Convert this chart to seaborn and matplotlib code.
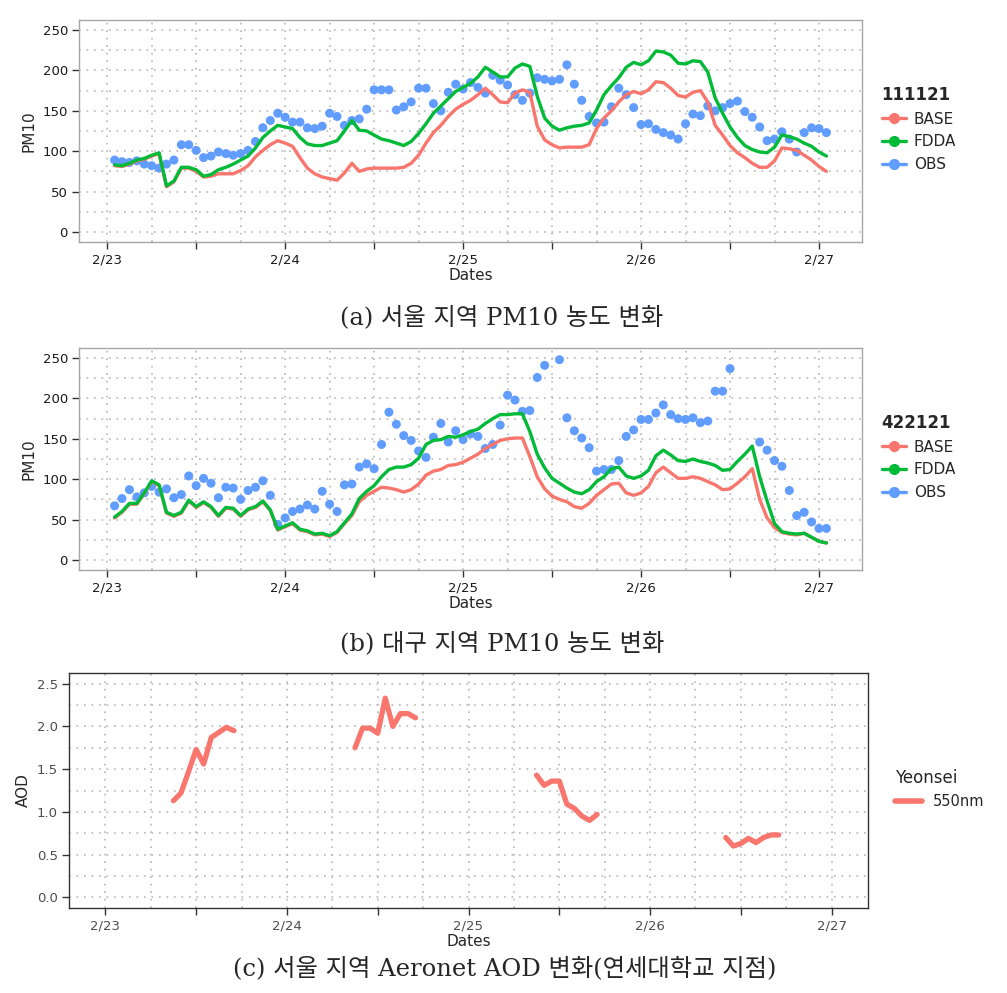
import numpy as np
import pandas as pd
import seaborn as sns
import matplotlib
matplotlib.use("Agg")
import matplotlib.pyplot as plt
import matplotlib.dates as mdates
from matplotlib.ticker import FuncFormatter, MultipleLocator
from matplotlib.lines import Line2D

sns.set_theme(style="white")
plt.rcParams['font.family'] = ['DejaVu Sans', 'Noto Sans CJK KR']

# hourly series, 2/23 01:00 .. 2/27 01:00
start = pd.Timestamp('2014-02-23 00:00')
hours = pd.date_range('2014-02-23 01:00', periods=97, freq='h')

seoul_base = [82, 81, 84, 88, 90, 94, 97, 56, 62, 79,
              79, 75, 68, 69, 72, 72, 72, 76, 82, 93,
              101, 108, 113, 110, 106, 92, 79, 72, 68, 66,
              64, 73, 85, 75, 78, 79, 79, 79, 79, 80,
              85, 95, 110, 123, 132, 143, 152, 158, 163, 170,
              178, 170, 161, 160, 172, 176, 173, 131, 114, 108,
              104, 105, 105, 105, 108, 128, 141, 150, 161, 170,
              174, 171, 176, 186, 185, 178, 169, 167, 173, 175,
              161, 132, 120, 107, 98, 92, 85, 80, 80, 88,
              104, 103, 101, 95, 89, 81, 75]
seoul_fdda = [83, 82, 85, 89, 91, 95, 98, 57, 63, 80,
              80, 77, 69, 71, 77, 80, 84, 89, 94, 104,
              117, 125, 132, 130, 128, 117, 109, 107, 107, 110,
              113, 125, 138, 126, 125, 120, 115, 113, 110, 107,
              112, 122, 134, 147, 156, 165, 174, 179, 184, 192,
              204, 198, 192, 192, 203, 208, 205, 168, 141, 131,
              126, 129, 131, 132, 135, 151, 170, 181, 191, 204,
              210, 207, 212, 224, 223, 219, 209, 208, 212, 211,
              198, 166, 147, 130, 117, 107, 102, 99, 98, 105,
              120, 118, 115, 110, 106, 99, 94]
seoul_obs = [89, 87, 86, 88, 84, 82, 79, 84, 89, 108,
             108, 101, 92, 94, 99, 97, 95, 97, 101, 112,
             129, 138, 147, 142, 136, 136, 129, 128, 131, 147,
             143, 132, 138, 140, 152, 176, 176, 176, 151, 155,
             161, 178, 178, 159, 150, 173, 183, 177, 185, 179,
             172, 194, 188, 182, 170, 163, 172, 191, 189, 187,
             189, 207, 183, 163, 143, 135, 136, 155, 178, 170,
             154, 133, 134, 127, 123, 120, 115, 134, 146, 144,
             156, 150, 154, 159, 162, 149, 142, 130, 113, 115,
             124, 115, 99, 123, 129, 128, 123]

daegu_base = [52, 59, 69, 69, 82, 97, 92, 58, 54, 58,
              73, 65, 71, 65, 54, 64, 63, 54, 62, 65,
              72, 61, 37, 41, 45, 37, 35, 31, 32, 29,
              34, 45, 55, 72, 80, 85, 90, 89, 87, 84,
              87, 94, 105, 110, 112, 117, 118, 121, 126, 131,
              138, 143, 148, 150, 151, 151, 128, 103, 88, 79,
              75, 72, 66, 64, 70, 80, 87, 94, 95, 83,
              80, 83, 91, 108, 115, 108, 101, 101, 103, 101,
              97, 93, 87, 88, 95, 103, 113, 75, 52, 40,
              34, 32, 31, 33, 28, 23, 21]
daegu_fdda = [53, 60, 70, 70, 83, 98, 93, 59, 55, 59,
              74, 66, 72, 66, 55, 65, 64, 55, 63, 66,
              73, 62, 38, 42, 46, 38, 36, 32, 33, 30,
              35, 46, 57, 76, 85, 92, 103, 112, 115, 115,
              118, 126, 143, 148, 149, 153, 152, 155, 159, 162,
              169, 175, 180, 180, 181, 181, 159, 131, 114, 101,
              95, 89, 84, 82, 87, 97, 103, 113, 115, 104,
              101, 104, 111, 129, 136, 130, 123, 122, 125, 122,
              120, 117, 111, 112, 122, 131, 141, 103, 73, 45,
              35, 33, 32, 33, 28, 23, 21]
daegu_obs = [67, 76, 87, 78, 83, 91, 84, 88, 77, 81,
             104, 92, 101, 95, 77, 90, 89, 75, 86, 90,
             98, 80, 44, 52, 60, 63, 68, 63, 85, 69,
             60, 93, 94, 115, 119, 113, 143, 183, 168, 154,
             148, 135, 127, 152, 169, 146, 160, 149, 156, 153,
             138, 143, 167, 204, 198, 184, 185, 226, 241, np.nan,
             248, 176, 160, 151, 139, 110, 112, 112, 123, 153,
             161, 174, 174, 182, 192, 180, 175, 174, 176, 170,
             172, 209, 209, 237, np.nan, np.nan, np.nan, 146, 136, 123,
             116, 86, 55, 59, 47, 39, 39]

# Aeronet AOD (Yonsei), hour offsets from 2/23 00:00
aod_hours = [9, 10, 11, 12, 13, 14, 15, 16, 17,
             33, 34, 35, 36, 37, 38, 39, 40, 41,
             57, 58, 59, 60, 61, 62, 63, 64, 65,
             82, 83, 84, 85, 86, 87, 88, 89]
aod_segment = [1] * 9 + [2] * 9 + [3] * 9 + [4] * 8
aod_values = [1.13, 1.22, 1.47, 1.73, 1.56, 1.87, 1.93, 1.99, 1.95,
              1.75, 1.98, 1.98, 1.92, 2.33, 2.00, 2.15, 2.15, 2.10,
              1.43, 1.31, 1.36, 1.36, 1.09, 1.04, 0.95, 0.90, 0.97,
              0.70, 0.60, 0.63, 0.69, 0.64, 0.70, 0.73, 0.73]

colors = {'BASE': '#F8766D', 'FDDA': '#00BA38', 'OBS': '#619CFF'}

W, H = 1007, 993
fig = plt.figure(figsize=(W / 100, H / 100), dpi=100)


def px_axes(l, t, r, b):
    return fig.add_axes([l / W, 1 - b / H, (r - l) / W, (b - t) / H])


def date_label(x, pos=None):
    hr = int(round(x * 24)) % 24
    if hr != 0:
        return ''
    d = mdates.num2date(round(x))
    return f"{d.month}/{d.day}"


def style_axes(ax, spine_color, tick_color, label_color):
    ax.xaxis.set_major_locator(mdates.HourLocator(byhour=[0, 12]))
    ax.xaxis.set_minor_locator(mdates.HourLocator(byhour=[6, 18]))
    ax.xaxis.set_major_formatter(FuncFormatter(date_label))
    ax.set_axisbelow(True)
    ax.grid(which='both', color='#b8b8b8', linestyle=(0, (1, 3.5)), linewidth=1.2)
    ax.tick_params(which='minor', length=0)
    ax.tick_params(which='major', length=5, width=1, color=tick_color,
                   labelsize=9.5, labelcolor=label_color, pad=3,
                   bottom=True, left=True)
    for s in ax.spines.values():
        s.set_color(spine_color)
        s.set_linewidth(1)


def pm_panel(ax, base, fdda, obs, title, legend_y):
    lines = pd.DataFrame({'Dates': hours, 'BASE': base, 'FDDA': fdda})
    lines = lines.melt(id_vars='Dates', var_name='run', value_name='PM10')
    points = pd.DataFrame({'Dates': hours, 'PM10': obs})
    sns.scatterplot(data=points, x='Dates', y='PM10', color=colors['OBS'],
                    s=42, edgecolor='none', ax=ax, legend=False, zorder=2)
    sns.lineplot(data=lines, x='Dates', y='PM10', hue='run', estimator=None,
                 palette=colors, linewidth=2.4, ax=ax, legend=False, zorder=3)
    ax.set_xlim(start - pd.Timedelta(hours=3.8), start + pd.Timedelta(hours=101.8))
    ax.set_ylim(-12.5, 262.5)
    ax.yaxis.set_major_locator(MultipleLocator(50))
    ax.yaxis.set_minor_locator(MultipleLocator(25))
    style_axes(ax, '#a6a6a6', '#333333', '#1a1a1a')
    ax.set_xlabel('Dates', fontsize=11, labelpad=1)
    ax.set_ylabel('PM10', fontsize=11, labelpad=4)
    handles = [Line2D([0], [0], color=colors[k], lw=2.4, marker='o', markersize=7)
               for k in ['BASE', 'FDDA', 'OBS']]
    leg = fig.legend(handles, ['BASE', 'FDDA', 'OBS'], title=title,
                     loc='center left', bbox_to_anchor=(874 / W, 1 - legend_y / H),
                     frameon=False, fontsize=11, handlelength=1.6,
                     handletextpad=0.5, labelspacing=0.5, borderpad=0)
    leg.get_title().set_fontweight('bold')
    leg.get_title().set_fontsize(12)
    leg._legend_box.align = 'left'


ax_a = px_axes(79, 20, 862, 242)
pm_panel(ax_a, seoul_base, seoul_fdda, seoul_obs, '111121', 129)

ax_b = px_axes(79, 348, 862, 570)
pm_panel(ax_b, daegu_base, daegu_fdda, daegu_obs, '422121', 457)

# panel (c)
ax_c = px_axes(69, 673, 868, 908)
aod = pd.DataFrame({'Dates': [start + pd.Timedelta(hours=h) for h in aod_hours],
                    'AOD': aod_values, 'seg': aod_segment, 'Yeonsei': '550nm'})
sns.lineplot(data=aod, x='Dates', y='AOD', hue='Yeonsei', units='seg', estimator=None,
             palette={'550nm': colors['BASE']}, linewidth=3.8, ax=ax_c, legend=False)
ax_c.set_xlim(start - pd.Timedelta(hours=4.8), start + pd.Timedelta(hours=100.8))
ax_c.set_ylim(-0.125, 2.625)
ax_c.yaxis.set_major_locator(MultipleLocator(0.5))
ax_c.yaxis.set_minor_locator(MultipleLocator(0.25))
ax_c.yaxis.set_major_formatter(FuncFormatter(lambda v, p: f"{v:.1f}"))
style_axes(ax_c, '#333333', '#333333', '#4d4d4d')
ax_c.set_xlabel('Dates', fontsize=11, labelpad=1)
ax_c.set_ylabel('AOD', fontsize=11, labelpad=4)
leg_c = fig.legend([Line2D([0], [0], color=colors['BASE'], lw=4)], ['550nm'],
                   title='Yeonsei', loc='center left',
                   bbox_to_anchor=(888 / W, 1 - 789 / H), frameon=False,
                   fontsize=10.5, handlelength=1.8, handletextpad=0.8, borderpad=0,
                   title_fontsize=12)
leg_c._legend_box.align = 'left'

caption_font = ['DejaVu Serif', 'Noto Sans CJK KR']
fig.text(502 / W, 1 - 317 / H, '(a) 서울 지역 PM10 농도 변화', ha='center', va='center',
         fontsize=17.5, family=caption_font)
fig.text(502 / W, 1 - 643 / H, '(b) 대구 지역 PM10 농도 변화', ha='center', va='center',
         fontsize=17.5, family=caption_font)
fig.text(505 / W, 1 - 968 / H, '(c) 서울 지역 Aeronet AOD 변화(연세대학교 지점)', ha='center',
         va='center', fontsize=17.5, family=caption_font)

fig.savefig('out.png', dpi=100, facecolor='white')
